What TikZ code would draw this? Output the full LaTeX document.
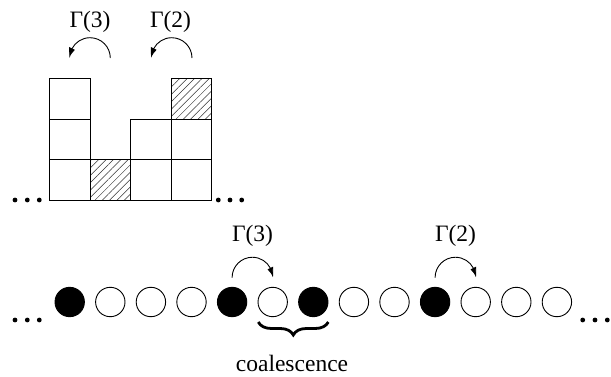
\documentclass[tikz,border=0pt]{standalone}
\usepackage{fontspec}
\setmainfont{Liberation Serif}
\usetikzlibrary{arrows.meta,bending,patterns.meta,decorations.pathreplacing,calc}
\begin{document}
\begin{tikzpicture}[x=1pt,y=1pt,
  cell/.style={draw,line width=0.9pt,minimum size=40.6pt,inner sep=0pt,outer sep=0pt},
  hatched/.style={cell,pattern={Lines[angle=45,distance=5.2pt,line width=0.5pt]},pattern color=black!80},
  site/.style={circle,draw,line width=0.9pt,minimum size=29.4pt,inner sep=0pt},
  occ/.style={site,fill=black},
  emp/.style={site,fill=white},
  dot/.style={circle,fill=black,inner sep=0pt,minimum size=4.8pt},
  lbl/.style={font=\fontsize{23.5}{26}\selectfont,inner sep=0pt},
  hop/.style={line width=0.9pt,-{Latex[length=10pt,width=6.5pt,bend]}}
]
\useasboundingbox (0,0) rectangle (611,376);
% top: height profile
\node[cell] (a1) at (69.7,196) {};
\node[cell] (a2) at (69.7,236.6) {};
\node[cell] (a3) at (69.7,277.2) {};
\node[hatched] (b1) at (110.3,196) {};
\node[cell] (c1) at (150.9,196) {};
\node[cell] (c2) at (150.9,236.6) {};
\node[cell] (d1) at (191.5,196) {};
\node[cell] (d2) at (191.5,236.6) {};
\node[hatched] (d3) at (191.5,277.2) {};
\node[dot] (tl1) at (15,176) {};
\node[dot] (tl2) at (27.3,176) {};
\node[dot] (tl3) at (39.3,176) {};
\node[dot] (tr1) at (218.3,176) {};
\node[dot] (tr2) at (230,176) {};
\node[dot] (tr3) at (241.7,176) {};
\node[lbl] (g3t) at (90,354) {Γ(3)};
\node[lbl] (g2t) at (170.5,354) {Γ(2)};
\coordinate (s3t) at (110.3,318);
\coordinate (s2t) at (192,318);
\draw[hop] (s3t) arc[start angle=0,end angle=180,radius=20.3];
\draw[hop] (s2t) arc[start angle=0,end angle=180,radius=20.3];
% bottom: particles
\foreach \k/\st in {0/occ,1/emp,2/emp,3/emp,4/occ,5/emp,6/occ,7/emp,8/emp,9/occ,10/emp,11/emp,12/emp}{
  \node[\st] (p\k) at ({69.7+40.6*\k},74) {};
}
\node[dot] (bl1) at (15,56) {};
\node[dot] (bl2) at (27.3,56) {};
\node[dot] (bl3) at (39.3,56) {};
\node[dot] (br1) at (582.7,56) {};
\node[dot] (br2) at (595,56) {};
\node[dot] (br3) at (607.3,56) {};
\node[lbl] (g3b) at (252.5,140) {Γ(3)};
\node[lbl] (g2b) at (455.5,140) {Γ(2)};
\draw[hop] ([yshift=9.3pt]p4.north) arc[start angle=180,end angle=0,radius=20.3];
\draw[hop] ([yshift=9.3pt]p9.north) arc[start angle=180,end angle=0,radius=20.3];
\coordinate (bra) at (328.3,54);
\coordinate (brb) at (258.3,54);
\draw[line width=2.8pt,decoration={brace,amplitude=13pt},decorate] (bra) -- (brb);
\node[lbl,anchor=base] (coal) at (292,5) {coalescence};
\end{tikzpicture}
\end{document}
